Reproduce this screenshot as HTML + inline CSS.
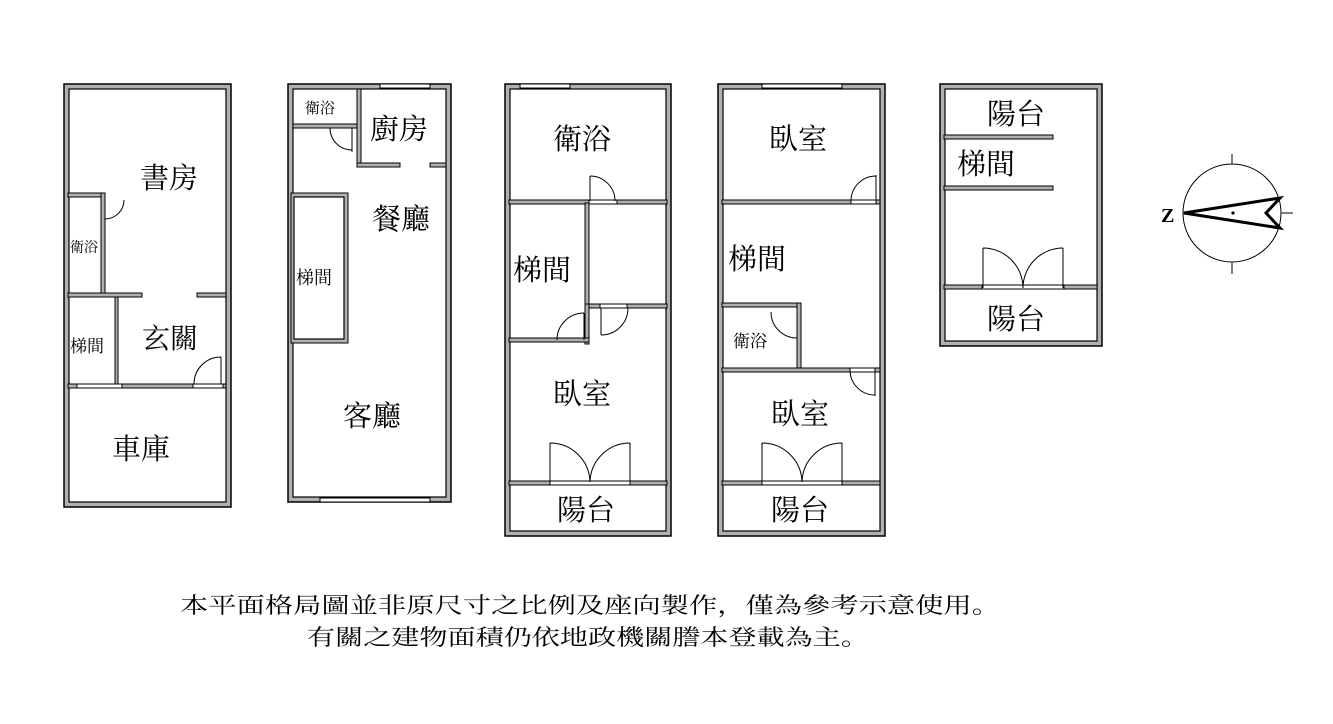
<!DOCTYPE html>
<html><head><meta charset="utf-8"><style>
html,body{margin:0;padding:0;background:#fff;}
svg{display:block}
text{font-family:"Liberation Serif","Noto Serif CJK SC",serif;fill:#000}
.w{fill:#b0b0b0;stroke:#000;stroke-width:1}
.o{fill:#b0b0b0;stroke:#000;stroke-width:1.5}
.i{fill:#fff;stroke:#000;stroke-width:1.2}
.d{fill:none;stroke:#000;stroke-width:1}
.win{fill:#fff;stroke:#000;stroke-width:1}
</style></head><body>
<svg width="1333" height="724" viewBox="0 0 1333 724" xmlns="http://www.w3.org/2000/svg">
<!-- Plan 1 -->
<rect class="o" x="64" y="84" width="167" height="423"/>
<rect class="i" x="69" y="89" width="157" height="413"/>
<rect class="w" x="68" y="193" width="37" height="4"/>
<rect class="w" x="101" y="193" width="4" height="100"/>
<rect class="w" x="68" y="293" width="74" height="4"/>
<rect class="w" x="197" y="293" width="29" height="4"/>
<rect class="w" x="115" y="297" width="3" height="87"/>
<rect class="w" x="68" y="384" width="158" height="4"/>
<rect class="win" x="77" y="384" width="45" height="4"/>
<rect class="win" x="193" y="384" width="30" height="4"/>
<path class="d" d="M105 200 V219 M105 219 A19 19 0 0 0 124 200"/>
<path class="d" d="M221 357 V384 M194 384 A27 27 0 0 1 221 357"/>
<text x="140" y="188" font-size="29">書房</text>
<text x="70" y="252" font-size="14">衛浴</text>
<text x="70" y="352" font-size="17">梯間</text>
<text x="142" y="348" font-size="28">玄關</text>
<text x="112" y="459" font-size="29">車庫</text>

<!-- Plan 2 -->
<rect class="o" x="288" y="84" width="163" height="418"/>
<rect class="i" x="293" y="89" width="153" height="408"/>
<rect class="win" x="380" y="84" width="50" height="4"/>
<rect class="win" x="320" y="498" width="110" height="4"/>
<rect class="w" x="293" y="124" width="64" height="4"/>
<rect class="w" x="357" y="89" width="4" height="78"/>
<rect class="w" x="357" y="163" width="43" height="4"/>
<rect class="w" x="430" y="163" width="16" height="4"/>
<rect class="w" x="291" y="193" width="57" height="150"/>
<rect class="i" x="294" y="197" width="50" height="142"/>
<path class="d" d="M352 128 V152 M330 128 A22 22 0 0 0 352 150"/>
<text x="305" y="113" font-size="15">衛浴</text>
<text x="370" y="139" font-size="29">廚房</text>
<text x="372" y="229" font-size="29">餐廳</text>
<text x="296" y="284" font-size="18">梯間</text>
<text x="343" y="426" font-size="29">客廳</text>

<!-- Plan 3 -->
<rect class="o" x="505" y="84" width="166" height="452"/>
<rect class="i" x="510" y="89" width="156" height="442"/>
<rect class="win" x="520" y="84" width="50" height="4"/>
<rect class="w" x="509" y="200" width="158" height="4"/>
<rect class="win" x="589" y="200" width="28" height="4"/>
<rect class="w" x="585" y="203" width="4" height="105"/>
<rect class="w" x="585" y="304" width="82" height="4"/>
<rect class="win" x="600" y="304" width="27" height="4"/>
<rect class="w" x="585" y="304" width="4" height="40"/>
<rect class="w" x="509" y="338" width="80" height="4"/>
<rect class="w" x="509" y="481" width="158" height="4"/>
<rect class="win" x="550" y="481" width="80" height="4"/>
<path class="d" d="M590 176 V201 M590 176 A25 25 0 0 1 615 201"/>
<path class="d" d="M584 313 V340 M557 340 A27 27 0 0 1 584 313"/>
<path class="d" d="M601 308 V335 M601 335 A27 27 0 0 0 628 308"/>
<path class="d" d="M550 443 V482 M550 443 A40 40 0 0 1 590 482 M630 443 V482 M630 443 A40 40 0 0 0 590 482"/>
<text x="553" y="149" font-size="29">衛浴</text>
<text x="513" y="280" font-size="29">梯間</text>
<text x="553" y="404" font-size="29">臥室</text>
<text x="557" y="520" font-size="29">陽台</text>

<!-- Plan 4 -->
<rect class="o" x="718" y="84" width="167" height="452"/>
<rect class="i" x="723" y="89" width="157" height="442"/>
<rect class="win" x="762" y="84" width="80" height="4"/>
<rect class="w" x="722" y="200" width="158" height="4"/>
<rect class="win" x="851" y="200" width="25" height="4"/>
<rect class="w" x="722" y="303" width="78" height="4"/>
<rect class="w" x="797" y="303" width="4" height="68"/>
<rect class="w" x="722" y="368" width="158" height="4"/>
<rect class="win" x="850" y="368" width="25" height="4"/>
<rect class="w" x="722" y="481" width="158" height="4"/>
<rect class="win" x="762" y="481" width="80" height="4"/>
<path class="d" d="M876 175 V201 M851 201 A25 25 0 0 1 876 176"/>
<path class="d" d="M797 312 V338 M771 312 A26 26 0 0 0 797 338"/>
<path class="d" d="M875 370 V396 M850 370 A25 25 0 0 0 875 395"/>
<path class="d" d="M762 443 V482 M762 443 A40 40 0 0 1 802 482 M842 443 V482 M842 443 A40 40 0 0 0 802 482"/>
<text x="769" y="149" font-size="29">臥室</text>
<text x="728" y="269" font-size="29">梯間</text>
<text x="733" y="347" font-size="17">衛浴</text>
<text x="771" y="424" font-size="29">臥室</text>
<text x="771" y="520" font-size="29">陽台</text>

<!-- Plan 5 -->
<rect class="o" x="940" y="84" width="162" height="262"/>
<rect class="i" x="945" y="89" width="152" height="252"/>
<rect class="w" x="944" y="135" width="109" height="4"/>
<rect class="w" x="944" y="186" width="109" height="4"/>
<rect class="w" x="944" y="285" width="153" height="4"/>
<rect class="win" x="982" y="285" width="82" height="4"/>
<path class="d" d="M983 248 V288 M983 248 A40 40 0 0 1 1023 288 M1063 248 V288 M1063 248 A40 40 0 0 0 1023 288"/>
<text x="987" y="124" font-size="29">陽台</text>
<text x="957" y="174" font-size="29">梯間</text>
<text x="987" y="329" font-size="29">陽台</text>

<!-- Compass -->
<circle cx="1232" cy="213" r="49" fill="none" stroke="#000" stroke-width="1"/>
<path d="M1232 154 V165 M1232 262 V274 M1281 213 H1293" stroke="#555" stroke-width="1.5"/>
<polygon points="1184,213 1280,198 1266,213 1280,228" fill="none" stroke="#000" stroke-width="3" stroke-linejoin="miter"/>
<circle cx="1233" cy="213" r="1.6" fill="#000"/>
<text x="1161" y="222" font-size="20" font-weight="bold" font-family="Liberation Sans,sans-serif">Z</text>

<!-- Footnote -->
<text x="180" y="613" font-size="22" textLength="820" lengthAdjust="spacingAndGlyphs">本平面格局圖並非原尺寸之比例及座向製作，僅為參考示意使用。</text>
<text x="307" y="645" font-size="22" textLength="562" lengthAdjust="spacingAndGlyphs">有關之建物面積仍依地政機關謄本登載為主。</text>
</svg>
</body></html>
